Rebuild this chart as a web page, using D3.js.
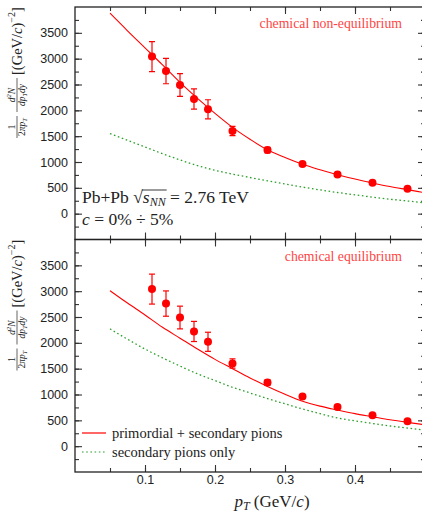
<!DOCTYPE html>
<html>
<head>
<meta charset="utf-8">
<script src="https://cdn.jsdelivr.net/npm/d3@7"></script>
<style>
  body { margin: 0; background: #fff; }
  .tick-label { font-family: "Liberation Sans", Arial, sans-serif; font-size: 12.5px; fill: #222; }
  .serif { font-family: "Liberation Serif", "Times New Roman", serif; fill: #222; }
</style>
</head>
<body>
<svg id="chart"></svg>
<script>
// measured points (same in both panels)
var ptData = [0.11, 0.13, 0.15, 0.17, 0.19, 0.225, 0.275, 0.325, 0.375, 0.425, 0.475];
var yieldData = [3040, 2760, 2490, 2220, 2020, 1600, 1230, 960, 760, 600, 480];
var yieldErr = [290, 245, 220, 195, 185, 90, 55, 35, 30, 25, 20];

var curvePt = [0.05, 0.075, 0.1, 0.125, 0.15, 0.175, 0.2, 0.225, 0.25, 0.275, 0.3, 0.325, 0.35, 0.375, 0.4, 0.425, 0.45, 0.475, 0.5];
var neqTotal = [3880, 3540, 3210, 2880, 2540, 2230, 1940, 1670, 1440, 1235, 1085, 955, 850, 755, 670, 595, 525, 465, 405];
var neqSecondary = [1550, 1420, 1290, 1160, 1040, 930, 840, 765, 700, 635, 575, 515, 460, 410, 365, 320, 280, 245, 210];
var eqTotal = [3010, 2770, 2540, 2300, 2090, 1880, 1680, 1500, 1320, 1155, 1005, 870, 775, 700, 630, 570, 510, 460, 415];
var eqSecondary = [2270, 2070, 1880, 1710, 1550, 1400, 1270, 1140, 1030, 920, 820, 720, 630, 545, 490, 440, 390, 350, 310];

var xTicks = [0.1, 0.2, 0.3, 0.4];
var yTicks = [0, 500, 1000, 1500, 2000, 2500, 3000, 3500];

var width = 422, height = 515;
var left = 75, right = 425;
var panelH = 232.5;
var panels = [
  {top: 7, total: neqTotal, secondary: neqSecondary, title: "chemical non-equilibrium"},
  {top: 7 + panelH, total: eqTotal, secondary: eqSecondary, title: "chemical equilibrium"}
];

var red = "#ff0000";
var green = "#2ca02c";

var svg = d3.select("#chart")
  .attr("width", width)
  .attr("height", height);

var x = d3.scaleLinear().domain([0, 0.5]).range([left, right]);

panels.forEach(function(p, i) {
  var y = d3.scaleLinear().domain([-500, 4000]).range([p.top + panelH, p.top]);

  var clipId = "clip" + i;
  svg.append("clipPath").attr("id", clipId)
    .append("rect")
    .attr("x", left).attr("y", p.top)
    .attr("width", right - left).attr("height", panelH);

  var g = svg.append("g");

  // ticks on all four sides, majors longer
  var xMinor = d3.range(0.05, 0.5, 0.05);
  var yMinor = d3.range(-250, 4000, 250);

  g.append("g").attr("transform", "translate(0," + (p.top + panelH) + ")")
    .call(d3.axisBottom(x).tickValues(xMinor).tickSize(-4).tickFormat(""));
  g.append("g").attr("transform", "translate(0," + (p.top + panelH) + ")")
    .call(d3.axisBottom(x).tickValues(xTicks).tickSize(-7).tickFormat(i == 1 ? d3.format(".1f") : ""));
  g.append("g").attr("transform", "translate(0," + p.top + ")")
    .call(d3.axisTop(x).tickValues(xMinor).tickSize(-4).tickFormat(""));
  g.append("g").attr("transform", "translate(0," + p.top + ")")
    .call(d3.axisTop(x).tickValues(xTicks).tickSize(-7).tickFormat(""));

  g.append("g").attr("transform", "translate(" + left + ",0)")
    .call(d3.axisLeft(y).tickValues(yMinor).tickSize(-4).tickFormat(""));
  g.append("g").attr("transform", "translate(" + left + ",0)")
    .call(d3.axisLeft(y).tickValues(yTicks).tickSize(-7).tickPadding(7).tickFormat(d3.format("d")));
  g.append("g").attr("transform", "translate(" + right + ",0)")
    .call(d3.axisRight(y).tickValues(yMinor).tickSize(-4).tickFormat(""));
  g.append("g").attr("transform", "translate(" + right + ",0)")
    .call(d3.axisRight(y).tickValues(yTicks).tickSize(-7).tickFormat(""));

  g.selectAll(".domain").remove();
  g.selectAll(".tick line").attr("stroke", "#333").attr("stroke-width", 1.1);
  g.selectAll(".tick text").attr("class", "tick-label").attr("fill", null);
  g.selectAll("g").attr("font-family", null).attr("font-size", null);

  // frame
  g.append("rect")
    .attr("x", left).attr("y", p.top)
    .attr("width", right - left).attr("height", panelH)
    .attr("fill", "none").attr("stroke", "#222").attr("stroke-width", 1.3);

  var plot = g.append("g").attr("clip-path", "url(#" + clipId + ")");

  var line = d3.line()
    .x(function(d, k) { return x(curvePt[k]); })
    .y(function(d) { return y(d); })
    .curve(d3.curveMonotoneX);

  plot.append("path")
    .datum(p.secondary)
    .attr("d", line)
    .attr("fill", "none")
    .attr("stroke", green)
    .attr("stroke-width", 1.3)
    .attr("stroke-dasharray", "1.6,2.6");

  plot.append("path")
    .datum(p.total)
    .attr("d", line)
    .attr("fill", "none")
    .attr("stroke", red)
    .attr("stroke-width", 1.1);

  // error bars
  var bars = plot.selectAll(".err")
    .data(ptData)
    .enter()
    .append("g");
  bars.append("line")
    .attr("x1", function(d) { return x(d); })
    .attr("x2", function(d) { return x(d); })
    .attr("y1", function(d, k) { return y(yieldData[k] - yieldErr[k]); })
    .attr("y2", function(d, k) { return y(yieldData[k] + yieldErr[k]); })
    .attr("stroke", red).attr("stroke-width", 1.2);
  [-1, 1].forEach(function(s) {
    bars.append("line")
      .attr("x1", function(d) { return x(d) - 3; })
      .attr("x2", function(d) { return x(d) + 3; })
      .attr("y1", function(d, k) { return y(yieldData[k] + s * yieldErr[k]); })
      .attr("y2", function(d, k) { return y(yieldData[k] + s * yieldErr[k]); })
      .attr("stroke", red).attr("stroke-width", 1.2);
  });

  plot.selectAll(".pt")
    .data(ptData)
    .enter()
    .append("circle")
    .attr("cx", function(d) { return x(d); })
    .attr("cy", function(d, k) { return y(yieldData[k]); })
    .attr("r", 4)
    .attr("fill", red);

  g.append("text")
    .attr("class", "serif")
    .attr("x", 402)
    .attr("y", p.top + 21)
    .attr("text-anchor", "end")
    .style("font-size", "13.75px")
    .style("fill", "#ff4444")
    .text(p.title);

  // y axis label
  var lab = svg.append("g")
    .attr("class", "serif")
    .attr("transform", "translate(17," + (p.top + 64) + ") rotate(-90)");
  lab.append("text").attr("x", -56).attr("y", -2.5).attr("text-anchor", "middle")
    .style("font-size", "10px").text("1");
  lab.append("line").attr("x1", -67).attr("x2", -45).attr("y1", 0).attr("y2", 0)
    .attr("stroke", "#222").attr("stroke-width", 0.7);
  var den1 = lab.append("text").attr("x", -56).attr("y", 8).attr("text-anchor", "middle")
    .style("font-size", "9.5px");
  den1.append("tspan").text("2");
  den1.append("tspan").style("font-style", "italic").text("πp");
  den1.append("tspan").style("font-style", "italic").style("font-size", "6.5px").attr("dy", 1.5).text("T");

  var num2 = lab.append("text").attr("x", -24).attr("y", -2.5).attr("text-anchor", "middle")
    .style("font-size", "9.5px").style("font-style", "italic");
  num2.append("tspan").text("d");
  num2.append("tspan").style("font-size", "6.5px").attr("dy", -3.5).text("2");
  num2.append("tspan").attr("dy", 3.5).text("N");
  lab.append("line").attr("x1", -41).attr("x2", -7).attr("y1", 0).attr("y2", 0)
    .attr("stroke", "#222").attr("stroke-width", 0.7);
  var den2 = lab.append("text").attr("x", -24).attr("y", 8).attr("text-anchor", "middle")
    .style("font-size", "9.5px").style("font-style", "italic");
  den2.append("tspan").text("dp");
  den2.append("tspan").style("font-size", "6.5px").attr("dy", 1.5).text("T");
  den2.append("tspan").attr("dy", -1.5).text("dy");

  var unit = lab.append("text").attr("x", -4).attr("y", 5)
    .style("font-size", "14.5px");
  unit.append("tspan").text("[(GeV/");
  unit.append("tspan").style("font-style", "italic").text("c");
  unit.append("tspan").text(")");
  unit.append("tspan").style("font-size", "10px").attr("dy", -7).text("−2");
  unit.append("tspan").attr("dy", 7).text("]");
});

// collision system label in top panel, with a drawn radical bar over s_NN
var fs = 17.5;
var sysY = 202.5;
var t1 = svg.append("text").attr("class", "serif")
  .attr("x", 82).attr("y", sysY).style("font-size", fs + "px")
  .text("Pb+Pb √");
var x1 = 82 + t1.node().getComputedTextLength();
var t2 = svg.append("text").attr("class", "serif")
  .attr("x", x1).attr("y", sysY).style("font-size", fs + "px");
t2.append("tspan").style("font-style", "italic").text("s");
t2.append("tspan").style("font-style", "italic").style("font-size", "12px").attr("dy", 3).text("NN");
var x2 = x1 + t2.node().getComputedTextLength();
svg.append("line")
  .attr("x1", x1 - 1).attr("x2", x2 + 1)
  .attr("y1", sysY - 12.5).attr("y2", sysY - 12.5)
  .attr("stroke", "#222").attr("stroke-width", 0.9);
svg.append("text").attr("class", "serif")
  .attr("x", x2).attr("y", sysY).style("font-size", fs + "px")
  .text("\u00a0= 2.76 TeV");

var cent = svg.append("text").attr("class", "serif")
  .attr("x", 82).attr("y", 225).style("font-size", fs + "px");
cent.append("tspan").style("font-style", "italic").text("c");
cent.append("tspan").text(" = 0% ÷ 5%");

// legend in bottom panel
var legend = [
  {label: "primordial + secondary pions", color: red, dash: null, y: 433},
  {label: "secondary pions only", color: green, dash: "1.6,2.6", y: 452}
];
legend.forEach(function(l) {
  svg.append("line")
    .attr("x1", 82).attr("x2", 106).attr("y1", l.y).attr("y2", l.y)
    .attr("stroke", l.color).attr("stroke-width", 1.2)
    .attr("stroke-dasharray", l.dash);
  svg.append("text").attr("class", "serif")
    .attr("x", 112).attr("y", l.y + 5)
    .style("font-size", "14.5px")
    .text(l.label);
});

// x axis title
var xt = svg.append("text").attr("class", "serif")
  .attr("x", 272).attr("y", 507).attr("text-anchor", "middle")
  .style("font-size", "17px");
xt.append("tspan").style("font-style", "italic").text("p");
xt.append("tspan").style("font-style", "italic").style("font-size", "12px").attr("dy", 2.5).text("T");
xt.append("tspan").attr("dy", -2.5).text(" (GeV/");
xt.append("tspan").style("font-style", "italic").text("c");
xt.append("tspan").text(")");
</script>
</body>
</html>
